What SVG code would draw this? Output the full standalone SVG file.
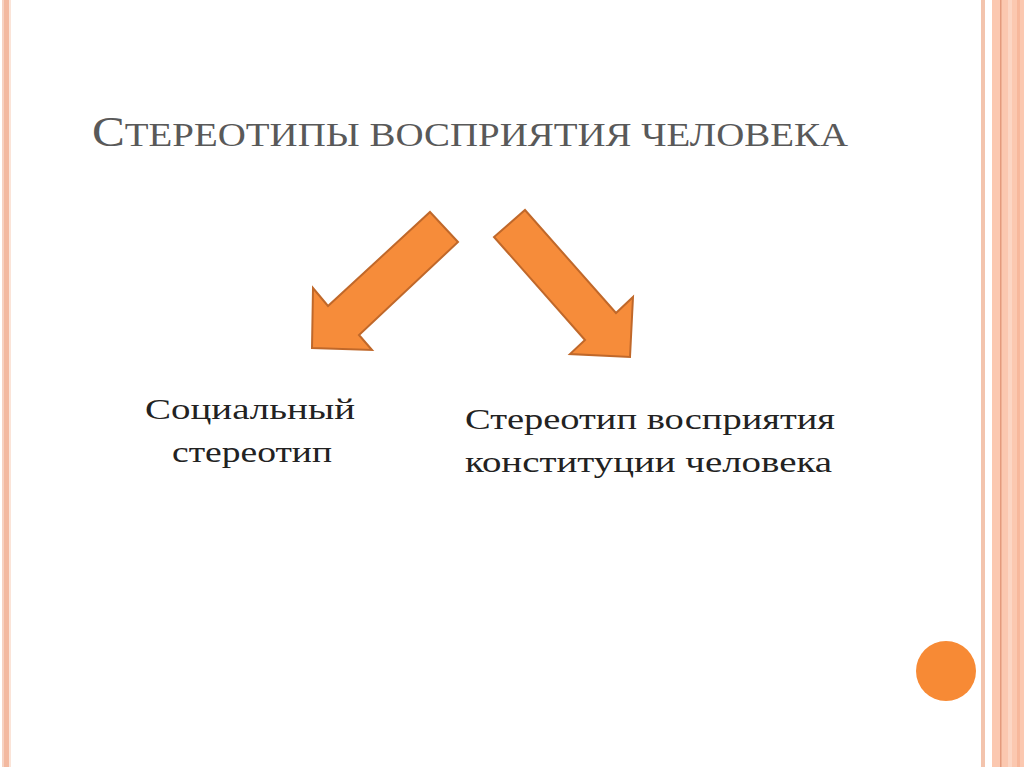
<svg xmlns="http://www.w3.org/2000/svg" width="1024" height="767" viewBox="0 0 1024 767">
<style>
.arr{fill:#f68c3a;stroke:#c0682a;stroke-width:2;stroke-linejoin:miter}
.t{font-family:"Liberation Serif",serif;fill:#222}
</style>
<rect width="1024" height="767" fill="#fff"/>
<rect x="2" y="0" width="2" height="767" fill="#f6d2c2"/>
<rect x="4" y="0" width="5" height="767" fill="#f3b9a0"/>
<rect x="9" y="0" width="2" height="767" fill="#fbe4d8"/>
<rect x="981" y="0" width="4" height="767" fill="#f3c4ad"/>
<rect x="992" y="0" width="32" height="767" fill="#fbc8b0"/>
<rect x="1000" y="0" width="1.5" height="767" fill="#e49a7c"/>
<rect x="1008" y="0" width="4" height="767" fill="#fcd6c4"/>
<rect x="1017" y="0" width="3" height="767" fill="#f7b89c"/>
<g id="title"><text class="t" x="92" y="146" font-size="43" style="fill:#595959" textLength="756" lengthAdjust="spacingAndGlyphs">С<tspan font-size="34">ТЕРЕОТИПЫ ВОСПРИЯТИЯ ЧЕЛОВЕКА</tspan></text></g>
<g id="connectors">
<polygon class="arr" points="430,212 458,242 359,335 372,350 312,348 313,288 328,306"/>
<polygon class="arr" points="525,210 616,313 633,297 630,357 570,354 585,340 494,237"/>
</g>
<g id="node1"><text class="t" font-size="30"><tspan x="145" y="419" textLength="210" lengthAdjust="spacingAndGlyphs">Социальный</tspan><tspan x="172" y="462" textLength="160" lengthAdjust="spacingAndGlyphs">стереотип</tspan></text></g>
<g id="node2"><text class="t" font-size="30"><tspan x="465" y="429" textLength="370" lengthAdjust="spacingAndGlyphs">Стереотип восприятия</tspan><tspan x="465" y="472" textLength="367" lengthAdjust="spacingAndGlyphs">конституции человека</tspan></text></g>
<circle cx="946" cy="671" r="30" fill="#f78a35"/>
</svg>
